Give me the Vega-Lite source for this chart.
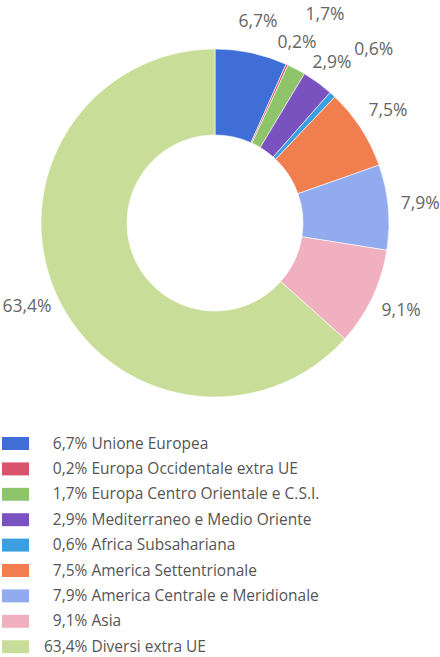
{
  "$schema": "https://vega.github.io/schema/vega-lite/v6.json",
  "width": 430,
  "height": 446,
  "padding": 0,
  "background": "#ffffff",
  "config": {
    "view": {"stroke": null},
    "text": {"font": "Open Sans", "fontSize": 17.5, "fill": "#666666"},
    "legend": {
      "orient": "none",
      "legendX": 2,
      "legendY": 430,
      "padding": 0,
      "symbolType": "M-1,-0.48H1V0.48H-1Z",
      "symbolSize": 729,
      "symbolStrokeWidth": 0,
      "symbolOpacity": 1,
      "labelFont": "Open Sans",
      "labelFontSize": 15.5,
      "labelColor": "#555555",
      "labelOffset": 15,
      "rowPadding": 3.4,
      "labelLimit": 400
    }
  },
  "data": {
    "values": [
      {"ordine": 1, "regione": "Unione Europea", "quota": 6.7},
      {"ordine": 2, "regione": "Europa Occidentale extra UE", "quota": 0.2},
      {"ordine": 3, "regione": "Europa Centro Orientale e C.S.I.", "quota": 1.7},
      {"ordine": 4, "regione": "Mediterraneo e Medio Oriente", "quota": 2.9},
      {"ordine": 5, "regione": "Africa Subsahariana", "quota": 0.6},
      {"ordine": 6, "regione": "America Settentrionale", "quota": 7.5},
      {"ordine": 7, "regione": "America Centrale e Meridionale", "quota": 7.9},
      {"ordine": 8, "regione": "Asia", "quota": 9.1},
      {"ordine": 9, "regione": "Diversi extra UE", "quota": 63.4}
    ]
  },
  "transform": [
    {"stack": "quota", "groupby": [], "sort": [{"field": "ordine"}], "as": ["inizio", "fine"]},
    {"calculate": "(datum.inizio + datum.fine) / 2", "as": "centro"},
    {"calculate": "replace(format(datum.quota, '.1f'), '.', ',') + '%'", "as": "etichetta"},
    {"calculate": "(datum.quota < 10 ? '\u200b\u2007' : '') + datum.etichetta + ' ' + datum.regione", "as": "voce"}
  ],
  "layer": [
    {
      "mark": {"type": "arc", "radius": 174, "radius2": 88, "stroke": "#ffffff", "strokeWidth": 0.6},
      "encoding": {
        "theta": {"field": "inizio", "type": "quantitative", "stack": null, "scale": {"domain": [0, 100]}},
        "theta2": {"field": "fine"},
        "color": {
          "field": "voce",
          "type": "nominal",
          "sort": {"field": "ordine"},
          "scale": {
            "range": ["#3f6fd6", "#d9546a", "#8fc56a", "#7a52c0", "#3a9ee0", "#f07e4e", "#92abee", "#f0b0bf", "#c8de98"]
          },
          "legend": {"title": null}
        }
      }
    },
    {
      "transform": [{"filter": "datum.quota >= 5"}],
      "mark": {"type": "text", "radius": 206},
      "encoding": {
        "theta": {"field": "centro", "type": "quantitative", "stack": null},
        "text": {"field": "etichetta", "type": "nominal"}
      }
    },
    {
      "transform": [{"filter": "datum.ordine == 2 || datum.ordine == 4"}],
      "mark": {"type": "text", "radius": 198},
      "encoding": {
        "theta": {"field": "centro", "type": "quantitative", "stack": null},
        "text": {"field": "etichetta", "type": "nominal"}
      }
    },
    {
      "transform": [{"filter": "datum.ordine == 3 || datum.ordine == 5"}],
      "mark": {"type": "text", "radius": 235},
      "encoding": {
        "theta": {"field": "centro", "type": "quantitative", "stack": null},
        "text": {"field": "etichetta", "type": "nominal"}
      }
    }
  ]
}
